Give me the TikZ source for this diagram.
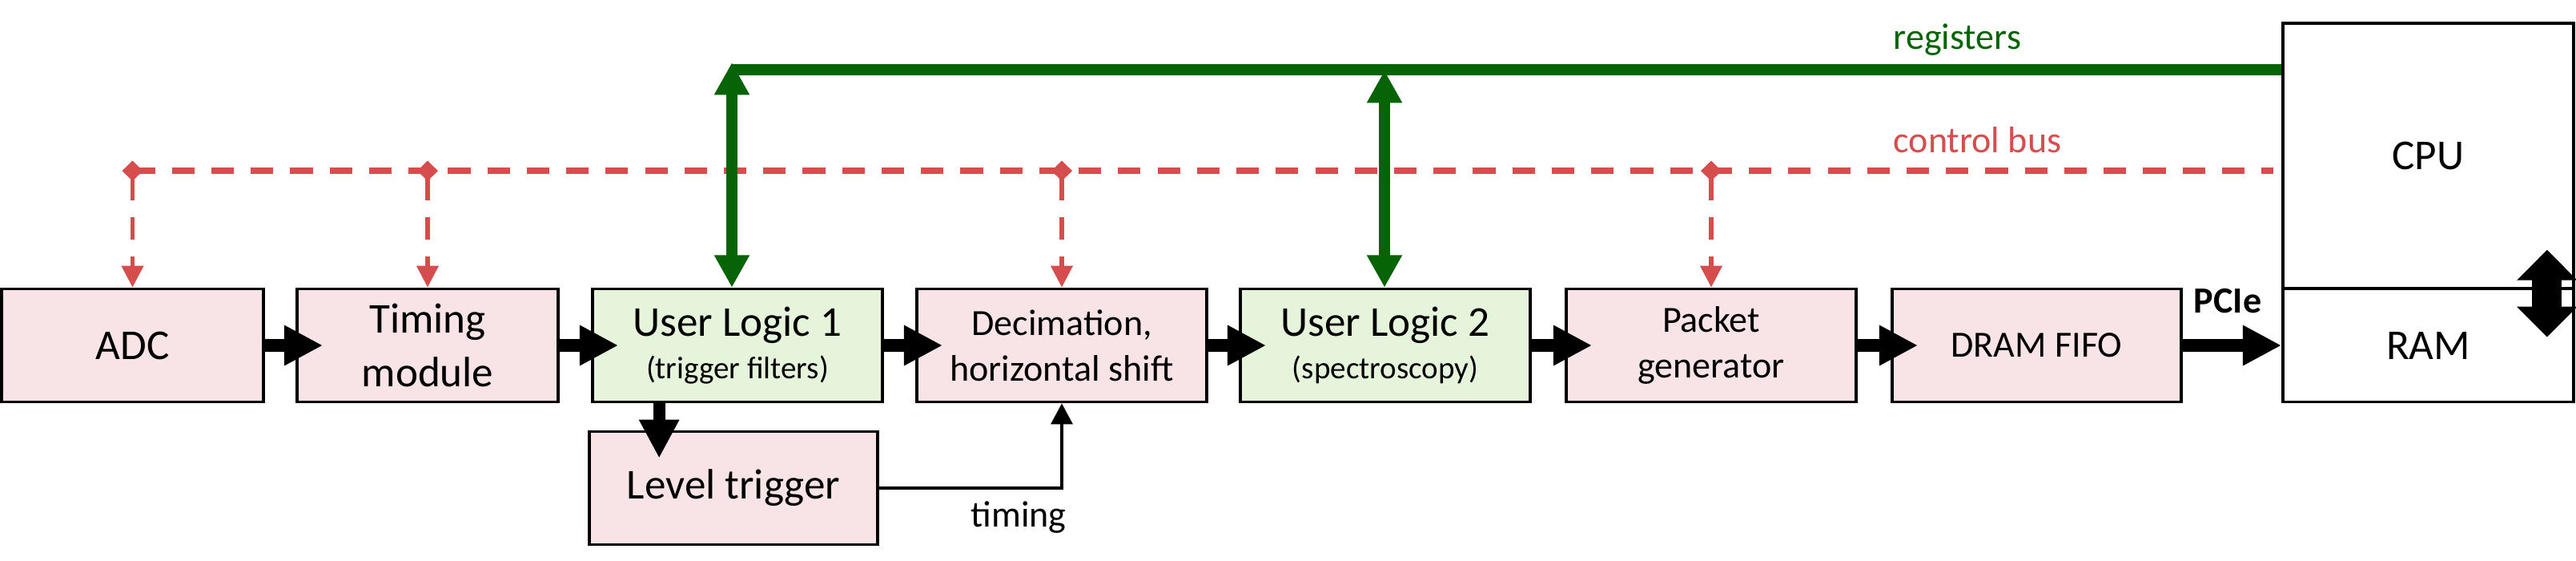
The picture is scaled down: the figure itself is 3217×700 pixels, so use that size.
\documentclass[tikz,border=0pt]{standalone}
\usepackage{fontspec}
\setmainfont{Carlito}
\usetikzlibrary{arrows.meta,calc}
\definecolor{busred}{RGB}{214,77,77}
\definecolor{busgreen}{RGB}{6,100,6}
\definecolor{pinkfill}{RGB}{248,228,230}
\definecolor{greenfill}{RGB}{231,244,220}
\begin{document}
\begin{tikzpicture}[x=0.01cm,y=-0.01cm,
  box/.style={draw,line width=1pt,minimum width=3.62cm,minimum height=1.41cm,inner sep=0pt,align=center},
  pinkbox/.style={box,fill=pinkfill},
  greenbox/.style={box,fill=greenfill},
  whitebox/.style={box,fill=white},
  bigfont/.style={font=\fontsize{15.1}{19.06}\selectfont},
  medfont/.style={font=\fontsize{13.1}{16.2}\selectfont},
  ulfont/.style={font=\fontsize{15.1}{15}\selectfont},
  flow/.style={line width=4.3pt,-{Triangle[width=13.4pt,length=13.7pt]}},
  ctrl/.style={busred,line width=1.7pt,dash pattern=on 8pt off 6pt,{Diamond[width=7.4pt,length=7.2pt]}-{Triangle[width=7.5pt,length=7.7pt]}},
  ctrlbus/.style={busred,line width=2pt,dash pattern=on 8pt off 6pt},
  reg/.style={busgreen,line width=4pt},
  regarrow/.style={reg,{Triangle[width=11.8pt,length=11.5pt]}-{Triangle[width=11.8pt,length=11.5pt]}},
  lbl/.style={inner sep=0pt}
]
\useasboundingbox (0,0) rectangle (3217,700);

% boxes
\node[pinkbox,bigfont,minimum width=3.27cm] (adc) at (165.5,431) {ADC};
\node[pinkbox,bigfont,minimum width=3.26cm] (tim) at (534,431) {Timing\\module};
\node[greenbox,ulfont] (ul1) at (921,431) {User Logic 1\\{\fontsize{11.1}{15}\selectfont (trigger filters)}};
\node[pinkbox,medfont] (dec) at (1326,431) {Decimation,\\horizontal shift};
\node[greenbox,ulfont] (ul2) at (1730,431) {User Logic 2\\{\fontsize{11.1}{15}\selectfont (spectroscopy)}};
\node[pinkbox,medfont] (pkt) at (2137,431) {Packet\\generator};
\node[pinkbox,medfont,minimum width=3.61cm] (dram) at (2543.5,431) {DRAM FIFO};
\node[whitebox,bigfont,minimum width=3.63cm,minimum height=3.31cm] (cpu) at (3032.5,194.5) {CPU};
\node[whitebox,bigfont,minimum width=3.63cm] (ram) at (3032.5,431) {RAM};
\node[pinkbox,bigfont,minimum width=3.60cm] (lt) at (916,609) {Level trigger};

% control bus
\coordinate (cbend) at (2839,213);
\draw[ctrlbus] (adc.north |- cbend) -- (cbend);
\foreach \b in {adc,tim,dec,pkt}
  \draw[ctrl] ($(\b.north |- cbend)+(0,-12.5)$) -- (\b.north);

% registers
\coordinate (r1) at (914,78);
\coordinate (r2) at (1729,88);
\coordinate (rstart) at (914,87);
\draw[reg] (rstart) -- (cpu.west |- rstart);
\draw[regarrow] (r1) -- (r1 |- ul1.north);
\draw[regarrow] (r2) -- (r2 |- ul2.north);

% labels
\node[lbl,busgreen,medfont,anchor=base west] (reglbl) at (2364,61) {registers};
\node[lbl,busred,medfont,anchor=base west] (cblbl) at (2364,190) {control bus};

% data flow
\foreach \a/\b in {adc/tim,tim/ul1,ul1/dec,dec/ul2,ul2/pkt,pkt/dram}
  \draw[flow] (\a.east) -- ($(\b.west)+(34,0)$);
\draw[flow] (dram.east) -- (ram.west);
\node[lbl,font=\bfseries\fontsize{13.1}{16}\selectfont,anchor=base] (pcie) at (2782,390) {PCIe};

% level trigger
\draw[flow] ($(ul1.south west)+(85,0)$) -- ($(lt.north west)+(89,35)$);
\draw[line width=1.15pt,-{Triangle[width=7.6pt,length=7.4pt]}] (lt.east) -| (dec.south);
\node[lbl,medfont,anchor=base] (timlbl) at (1272,657) {timing};

% CPU <-> RAM
\draw[line width=10.5pt,{Triangle[width=20.8pt,length=10.8pt]}-{Triangle[width=20.8pt,length=10.8pt]}]
  ($(ram.north east)+(-35,-47)$) -- ($(ram.north east)+(-35,62)$);
\end{tikzpicture}
\end{document}
